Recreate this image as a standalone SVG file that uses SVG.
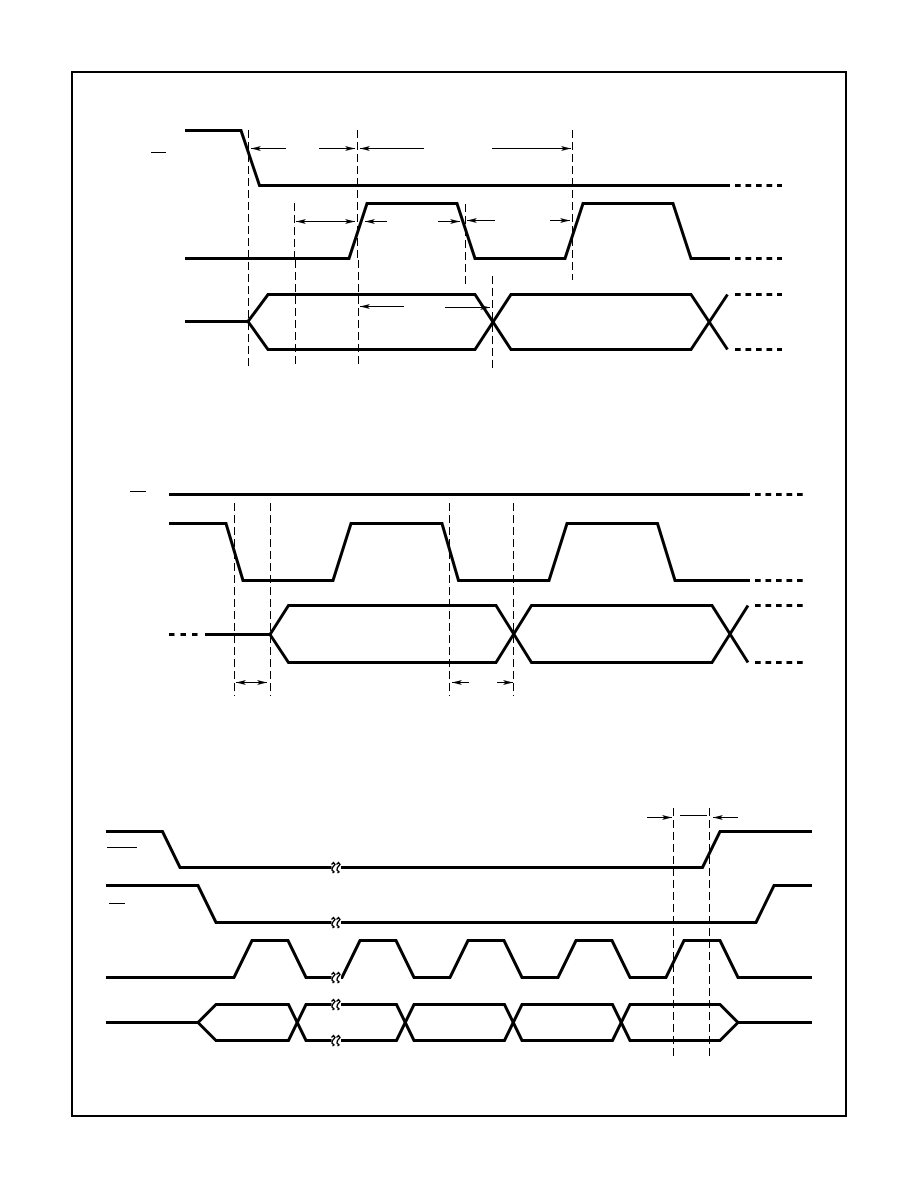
<svg xmlns="http://www.w3.org/2000/svg" width="918" height="1188" viewBox="0 0 918 1188">
<style>
.w{fill:none;stroke:#000;stroke-width:3;stroke-linejoin:miter}
.d{fill:none;stroke:#000;stroke-width:3;stroke-dasharray:5.7 4.8}
.g{fill:none;stroke:#000;stroke-width:1;stroke-dasharray:8 4}
.a{fill:none;stroke:#000;stroke-width:1}
.b{fill:none;stroke:#000;stroke-width:1}
.s{fill:none;stroke:#000;stroke-width:1.4}
.bg{fill:#fff}
</style>
<defs>
<marker id="h" viewBox="0 0 10 6" refX="10" refY="3" markerWidth="10" markerHeight="6" markerUnits="userSpaceOnUse" orient="auto-start-reverse"><path d="M0,0.5L10,3L0,5.5L2.5,3Z" fill="#000"/></marker>
<g id="brk"><rect class="bg" x="-4.5" y="-2.5" width="9.5" height="5"/><path class="s" d="M-4.5,-3L-2.5,-5L-1,-3L-3.5,0L-4,2.5L-2,4.5L-3.5,5.5M0.5,-3L2.5,-5L4,-3L1.5,0L1,2.5L3,4.5L1.5,5.5"/></g>
</defs>
<rect id="frame" x="72" y="72" width="774" height="1044" fill="#fff" stroke="#000" stroke-width="2"/>
<g id="panel1">
<path class="w" d="M185,130.5H241L259.5,185.5H730"/>
<path class="d" d="M735,185.5H782"/>
<path class="w" d="M185,258.5H349L367,203.5H457L475,258.5H565L583,203.5H673L691,258.5H730"/>
<path class="d" d="M735,258.5H782"/>
<path class="w" d="M185,321.5H248L268,294.5H475L511,349.5H691L727.5,294.5"/>
<path class="w" d="M248,321.5L268,349.5H475L511,294.5H691L727.5,349.5"/>
<path class="d" d="M735,294.5H782M735,349.5H782"/>
<path class="b" d="M151,152.5H166"/>
<path class="g" d="M248.5,130V367M294.5,203V258M295.5,260V368M357.5,130V258M358.5,260V368M465.5,204V285M572.5,130V280M492.5,276V368"/>
<path class="a" marker-end="url(#h)" d="M286,148.5H251"/>
<path class="a" marker-end="url(#h)" d="M319,148.5H355"/>
<path class="a" marker-end="url(#h)" d="M424,148.5H360"/>
<path class="a" marker-end="url(#h)" d="M492,148.5H571"/>
<path class="a" marker-start="url(#h)" marker-end="url(#h)" d="M296,221.5H355"/>
<path class="a" marker-end="url(#h)" d="M387,221.5H365"/>
<path class="a" marker-end="url(#h)" d="M438,221.5H460"/>
<path class="a" marker-end="url(#h)" d="M495,220.5H467"/>
<path class="a" marker-end="url(#h)" d="M550,220.5H570"/>
<path class="a" marker-end="url(#h)" d="M404,306.5H360"/>
<path class="a" marker-end="url(#h)" d="M445,307.5H490"/>
</g>
<g id="panel2">
<path class="w" d="M169,494.5H750"/>
<path class="d" d="M755,494.5H804"/>
<path class="w" d="M169,523.5H226L243,580.5H333L351,523.5H442L458.5,580.5H549L567,523.5H657.5L675,580.5H750"/>
<path class="d" d="M755,580.5H804"/>
<path class="d" style="stroke-dasharray:5.5 6" d="M169,634.5H200"/>
<path class="w" d="M205,634.5H270L288.5,605.5H496L531.5,662.5H712L748,605.5"/>
<path class="w" d="M270,634.5L288.5,662.5H496L531.5,605.5H712L748,662.5"/>
<path class="d" d="M755,605.5H804M755,662.5H804"/>
<path class="b" d="M130,491.5H146"/>
<path class="g" d="M234.5,503V696M270.5,503V696M449.5,503V696M513.5,503V696"/>
<path class="a" marker-start="url(#h)" marker-end="url(#h)" d="M236,682.5H267"/>
<path class="a" marker-end="url(#h)" d="M469,682.5H452"/>
<path class="a" marker-end="url(#h)" d="M497,682.5H513"/>
</g>
<g id="panel3">
<path class="w" d="M106,831.5H162.5L180,867.5H702.5L720,831.5H812"/>
<path class="w" d="M106,885.5H198L216,922.5H756L774,885.5H812"/>
<path class="w" d="M106,977.5H234L252,940.5H288L306,977.5H342L360,940.5H396L414,977.5H450L468,940.5H504L522,977.5H558L576,940.5H612L630,977.5H666L684,940.5H720L738,977.5H812"/>
<path class="w" d="M106,1022.5H198L216,1004.5H288.5L306,1040.5H396.5L414,1004.5H504.5L522,1040.5H612.5L630,1004.5H720L738,1022.5H812"/>
<path class="w" d="M198,1022.5L216,1040.5H288.5L306,1004.5H396.5L414,1040.5H504.5L522,1004.5H612.5L630,1040.5H720L738,1022.5"/>
<use href="#brk" x="336" y="867.5"/>
<use href="#brk" x="336" y="922.5"/>
<use href="#brk" x="336" y="977.5"/>
<use href="#brk" x="336" y="1004.5"/>
<use href="#brk" x="336" y="1040.5"/>
<path class="b" d="M107,847.5H137M109,903.5H125"/>
<path class="g" d="M673.5,808V1056M709.5,808V1056"/>
<path class="a" marker-end="url(#h)" d="M647,817.5H672"/>
<path class="a" d="M680,815.5H707"/>
<path class="a" marker-end="url(#h)" d="M738,817.5H713"/>
</g>
</svg>
